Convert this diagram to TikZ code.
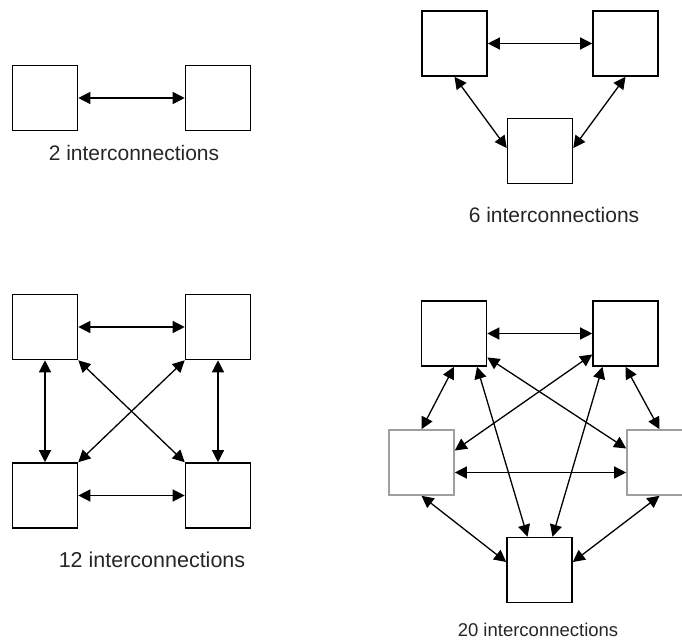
\documentclass[tikz,border=0pt]{standalone}
\usepackage{fontspec}
\setmainfont{Liberation Sans}
\usetikzlibrary{arrows.meta}
\begin{document}
\begin{tikzpicture}[x=1pt,y=-1pt,
  box/.style={draw=black,line width=1.6pt,fill=white,minimum width=65pt,minimum height=65pt,inner sep=0pt},
  gbox/.style={box,draw=gray!75},
  link/.style={line width=1.3pt,{Triangle[length=12pt,width=12pt]}-{Triangle[length=12pt,width=12pt]}},
  lbl/.style={inner sep=0pt,text=black!85},
]
\useasboundingbox (0,0) rectangle (682,644);
\clip (0,0) rectangle (682,644);
% panel 1
\node[box] (p1a) at (45,98) {};
\node[box] (p1b) at (218,98) {};
\draw[link] (p1a) -- (p1b);
\node[lbl,font=\fontsize{21}{25}\selectfont] (t1) at (134,153) {2 interconnections};
% panel 2
\node[box] (p2a) at (454.5,43.5) {};
\node[box] (p2b) at (625.5,43.5) {};
\node[box] (p2c) at (540,151) {};
\draw[link] (p2a) -- (p2b);
\draw[link] (p2a.south) -- ([yshift=3pt]p2c.west);
\draw[link] (p2b.south) -- ([yshift=3pt]p2c.east);
\node[lbl,font=\fontsize{21}{25}\selectfont] (t2) at (554,215) {6 interconnections};
% panel 3
\node[box] (p3a) at (45,327) {};
\node[box] (p3b) at (218,327) {};
\node[box] (p3c) at (45,495.5) {};
\node[box] (p3d) at (218,495.5) {};
\draw[link] (p3a) -- (p3b);
\draw[link] (p3c) -- (p3d);
\draw[link] (p3a) -- (p3c);
\draw[link] (p3b) -- (p3d);
\draw[link] (p3a.south east) -- (p3d.north west);
\draw[link] (p3b.south west) -- (p3c.north east);
\node[lbl,font=\fontsize{21.5}{25}\selectfont] (t3) at (152,560) {12 interconnections};
% panel 4
\node[box] (p4a) at (454,333.5) {};
\node[box] (p4b) at (625.5,333.5) {};
\node[gbox] (p4l) at (421.5,462.5) {};
\node[gbox] (p4r) at (659.5,462.5) {};
\node[box] (p4c) at (539.5,570) {};
\draw[link] (p4a) -- (p4b);
\draw[link] ([yshift=-10pt]p4l.east) -- ([yshift=-10pt]p4r.west);
\draw[link] (p4a.south) -- (p4l.north);
\draw[link] (p4b.south) -- (p4r.north);
\draw[link] ([xshift=23pt]p4a.south) -- ([xshift=-12pt]p4c.north);
\draw[link] ([xshift=-23pt]p4b.south) -- ([xshift=13pt]p4c.north);
\draw[link] ([yshift=-24pt]p4a.east) -- ([yshift=14pt]p4r.west);
\draw[link] ([yshift=-21pt]p4b.west) -- ([yshift=12pt]p4l.east);
\draw[link] (p4l.south) -- ([yshift=8pt]p4c.west);
\draw[link] (p4r.south) -- ([yshift=8pt]p4c.east);
\node[lbl,font=\fontsize{18.5}{22}\selectfont] (t4) at (538,630) {20 interconnections};
\end{tikzpicture}
\end{document}
